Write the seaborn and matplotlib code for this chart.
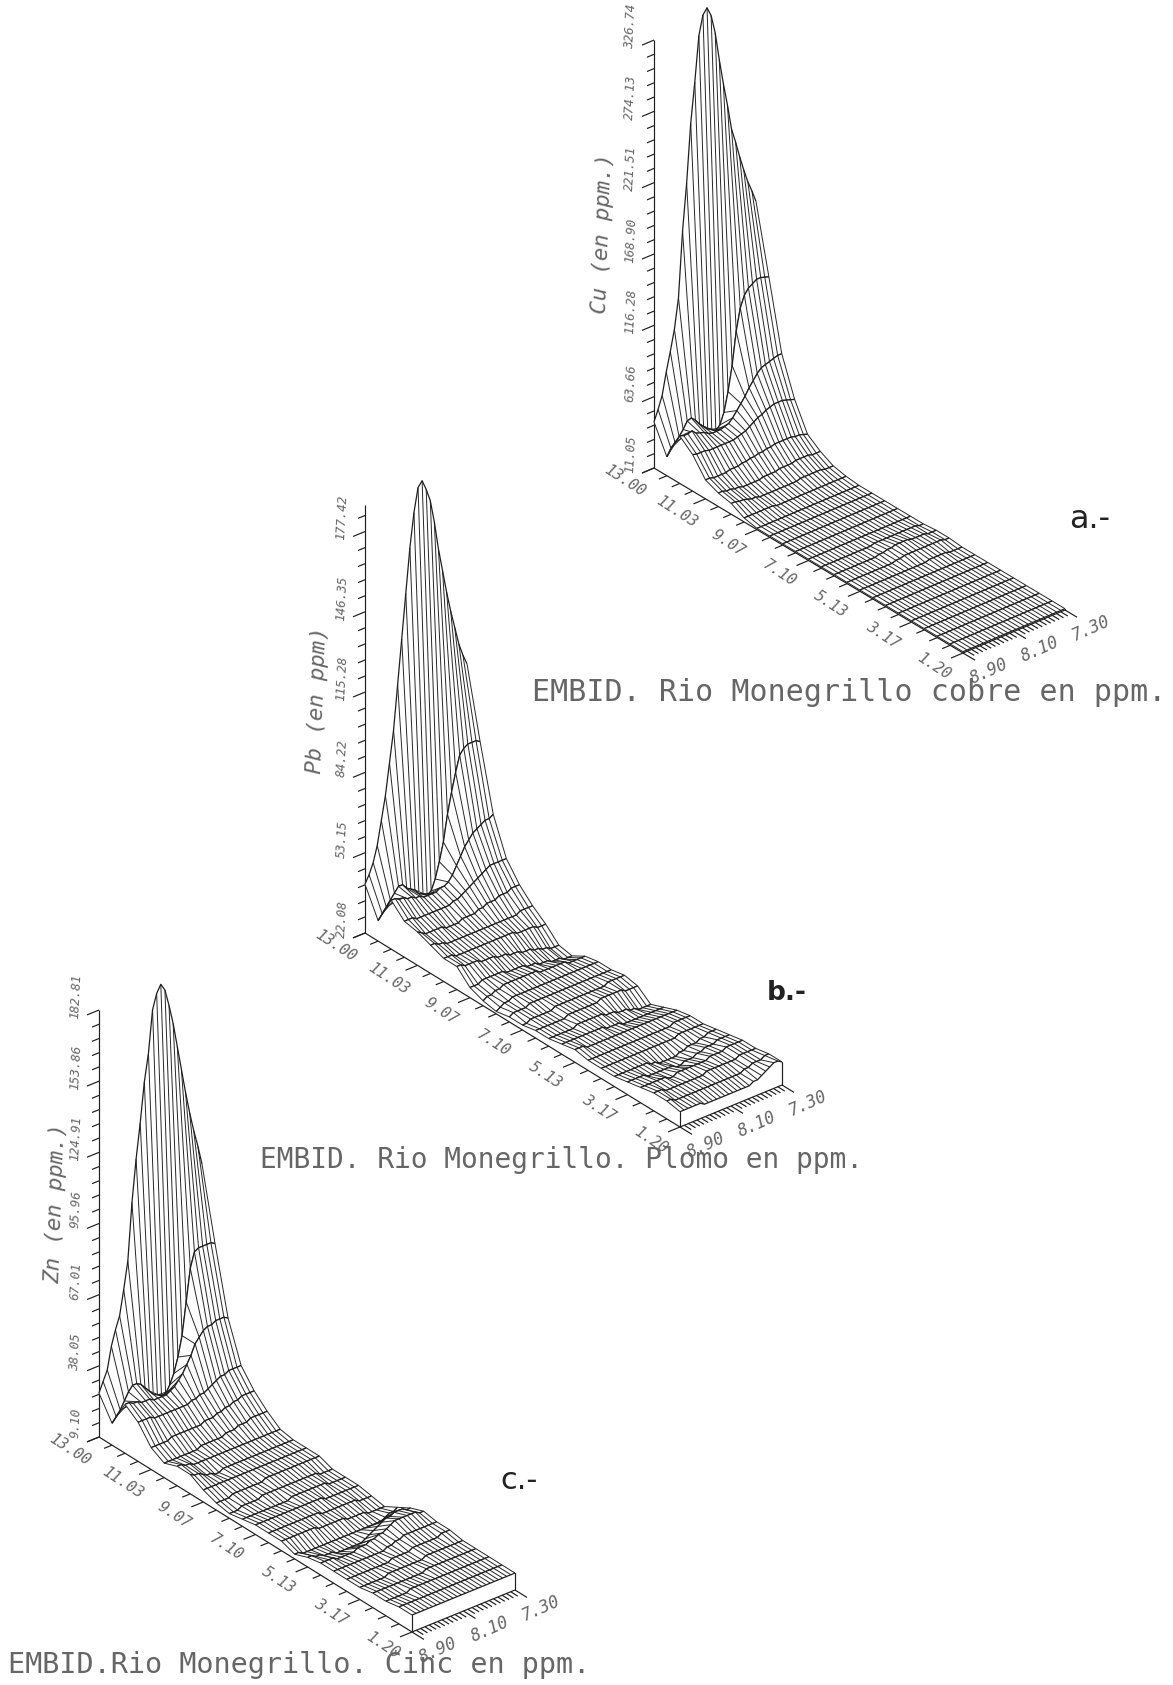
import numpy as np
import matplotlib
matplotlib.use("Agg")
import matplotlib.pyplot as plt
import seaborn as sns
from mpl_toolkits.mplot3d import proj3d

sns.set_theme(style="white", rc={"axes.grid": False})

W, H = 1173, 1685
x_labels = ["13.00", "11.03", "9.07", "7.10", "5.13", "3.17", "1.20"]
y_labels = ["8.90", "8.10", "7.30"]

cu_ticks = ["11.05", "63.66", "116.28", "168.90", "221.51", "274.13", "326.74"]
pb_ticks = ["22.08", "53.15", "84.22", "115.28", "146.35", "177.42"]
zn_ticks = ["9.10", "38.05", "67.01", "95.96", "124.91", "153.86", "182.81"]

cu = [
 [45,53,62,78,92,107,129,177,211,254,283,316,330,334,327,313,292,273,256,237,226,214,203,193,185,176],
 [25,30,33,36,40,45,46,43,39,36,33,31,29,32,40,54,72,96,112,120,124,126,128,128,127,126],
 [46,45,45,46,43,42,41,39,38,38,38,39,40,43,47,51,55,60,64,68,71,72,73,74,75,75],
 [38,37,37,37,36,36,36,36,36,36,36,37,38,39,41,43,45,46,48,49,50,50,50,49,48,47],
 [25,25,24,24,24,24,25,25,25,26,26,27,27,28,28,29,29,30,30,30,30,30,29,29,28,27],
 [21,21,20,20,19,19,18,18,18,18,18,19,19,19,19,20,20,20,20,21,21,21,21,20,20,20],
 [19,19,18,18,17,16,16,15,15,15,15,15,15,15,15,15,15,16,16,16,16,16,16,15,15,15],
 [14,14,14,14,14,14,14,14,13,13,13,13,13,13,13,13,13,13,13,13,13,13,13,13,13,13],
 [12]*26,
 [12]*26,
 [12]*26,
 [12]*26,
 [12]*26,
 [12,12,12,12,12,12,12,12,12,12,12,12,12,13,13,13,13,13,13,13,13,13,13,13,12,12],
 [12,12,12,12,12,12,12,12,12,12,12,13,13,14,14,15,15,15,15,14,14,14,14,13,13,13],
 [12,12,12,12,12,12,12,12,12,12,12,12,13,13,14,14,14,14,14,14,14,14,14,14,13,13],
 [12,12,12,12,12,12,12,12,12,12,12,12,12,12,12,12,12,13,13,13,13,13,12,12,12,12],
 [12]*26,
 [12]*26,
 [12]*26,
 [12]*26,
 [12]*26,
 [12]*26,
 [12]*26,
 [12]*26,
]

pb = [
 [41,44,48,54,63,72,84,96,113,130,147,164,177,186,188,184,179,170,159,150,141,133,126,119,114,110],
 [30,32,34,36,38,40,40,38,37,36,34,33,32,33,37,43,50,60,68,75,81,83,84,84,84,83],
 [41,41,40,40,39,39,38,38,37,37,37,37,38,38,39,41,44,47,50,52,54,55,56,57,57,58],
 [36,36,36,35,35,35,35,35,35,35,35,35,36,36,37,38,39,40,41,42,43,44,44,44,44,44],
 [35,34,33,33,33,33,33,32,32,32,32,33,33,33,33,34,34,35,35,35,36,36,36,37,37,37],
 [33,33,32,32,31,31,31,31,31,31,31,31,31,31,31,31,31,31,31,31,31,31,32,32,32,32],
 [31,31,31,30,30,30,30,30,30,30,30,30,30,30,30,30,30,30,29,29,29,29,29,28,28,28],
 [31,31,30,30,30,30,29,29,29,29,28,28,28,27,27,27,26,26,26,25,25,24,24,23,23,23],
 [26,26,26,27,27,27,27,27,27,26,26,26,26,26,25,25,25,24,24,24,23,23,23,22,22,22],
 [24,25,25,26,26,27,27,27,27,27,27,27,27,27,26,26,26,26,26,26,26,25,25,25,25,25],
 [23,24,25,25,26,26,26,26,26,26,26,26,26,26,26,26,26,26,26,26,26,26,26,26,26,26],
 [24,25,25,25,25,26,26,26,26,26,26,26,26,26,26,26,26,26,26,26,26,26,26,26,26,26],
 [24,24,25,25,25,25,25,25,26,26,26,26,26,26,26,26,26,26,26,26,26,27,27,27,27,27],
 [25,25,25,25,25,25,25,25,26,26,26,26,26,26,26,26,27,27,27,27,27,27,26,26,26,26],
 [25,25,25,25,25,25,25,26,26,26,26,26,26,26,25,25,25,24,24,24,23,23,22,22,22,22],
 [26,26,26,26,26,26,26,26,26,26,26,25,25,25,25,24,24,24,24,24,24,24,24,24,24,24],
 [27,27,27,26,26,26,26,26,26,26,26,26,26,26,26,26,26,26,26,26,26,26,26,26,26,26],
 [26,26,26,26,26,26,26,26,26,26,26,26,26,26,26,26,26,26,26,26,26,27,27,27,27,27],
 [26,26,26,26,26,26,26,26,26,26,26,26,26,26,26,26,26,26,26,27,27,27,27,27,27,27],
 [26,26,26,26,26,26,26,26,26,25,25,24,24,24,24,24,25,25,26,26,26,27,27,28,28,28],
 [27,27,27,27,27,26,26,26,26,26,26,26,25,25,26,26,26,27,27,28,28,28,29,29,29,29],
 [28,28,28,28,28,28,28,27,27,28,28,28,28,28,28,28,28,29,29,29,29,30,30,30,30,30],
 [29,29,29,28,28,28,28,28,28,28,28,28,28,29,29,29,29,29,29,29,29,30,30,30,30,30],
 [29,29,28,28,28,28,28,28,28,28,28,28,28,28,28,28,28,28,28,29,29,30,30,30,31,31],
 [28,28,28,28,28,28,27,27,27,27,27,27,27,27,27,27,27,27,28,28,29,30,31,32,32,31],
]

zn = [
 [27,31,35,44,50,55,65,76,99,116,130,146,157,174,180,183,180,173,165,155,145,135,126,118,111,103],
 [18,20,22,25,28,30,30,29,27,25,23,22,21,21,24,28,34,42,55,68,74,75,75,75,75,74],
 [29,29,28,28,27,27,27,26,26,26,26,27,28,30,32,35,38,42,44,46,47,47,48,48,48,47],
 [25,25,25,25,24,24,24,24,24,24,24,24,24,25,25,26,26,27,28,29,30,30,31,31,31,31],
 [18,18,18,18,18,19,19,19,19,19,19,19,19,20,20,20,21,21,22,22,23,23,24,24,24,24],
 [15,15,15,15,15,15,15,15,15,16,16,16,16,16,16,17,17,17,18,18,18,19,19,19,19,19],
 [17,17,16,16,15,15,15,15,15,15,15,15,15,15,15,15,15,15,15,15,15,15,15,15,15,15],
 [17,16,16,15,14,14,13,13,14,14,14,14,14,14,14,14,14,14,14,14,14,14,14,14,14,14],
 [14]*26,
 [12,12,12,12,13,13,13,13,13,13,13,13,14,14,14,14,14,14,14,14,14,14,14,14,14,14],
 [11,11,11,12,12,12,12,12,13,13,13,13,13,13,13,13,13,13,13,13,13,13,12,12,12,12],
 [12,12,12,12,12,12,12,12,12,12,12,12,13,13,13,13,13,13,13,13,13,12,12,12,12,12],
 [13,13,13,13,13,13,13,13,13,13,13,13,13,13,13,13,13,12,12,12,12,12,12,12,12,12],
 [13,13,13,13,13,13,13,13,13,13,13,13,13,12,12,12,12,12,12,12,12,12,11,11,11,11],
 [13,13,13,13,13,13,13,13,13,12,12,12,12,12,12,12,11,11,11,11,11,10,10,10,10,10],
 [11,11,10,10,10,10,10,10,10,10,10,10,10,10,10,10,10,10,10,10,10,10,11,12,12,13],
 [13,13,12,12,11,11,11,10,10,10,10,10,10,10,11,12,13,14,15,16,16,17,17,17,16,16],
 [14,14,14,14,13,13,13,13,13,14,14,14,15,15,16,16,17,18,19,19,19,19,19,19,18,18],
 [14,14,14,14,14,14,14,14,14,14,14,14,14,15,15,16,16,17,17,17,17,17,17,17,17,17],
 [14,14,14,14,14,14,14,14,14,14,14,15,15,15,15,15,16,16,16,16,16,16,16,17,17,17],
 [14,14,14,14,14,14,14,15,15,15,15,15,15,15,15,15,16,16,16,16,16,16,16,16,16,16],
 [15,15,15,15,15,15,15,15,15,15,15,15,15,16,16,16,16,16,16,16,16,16,16,16,16,16],
 [15,15,15,15,15,15,16,16,16,16,16,16,16,16,16,16,16,16,16,16,16,16,16,16,16,16],
 [16]*26,
 [16]*26,
]

MONO = "DejaVu Sans Mono"
INK = "#1e1e1e"
HATCH = "#262626"
TXT = "#666666"


def chart(fig, Z, z_ticks, z_top, base, near, far, z_px, ztitle, ztitle_pos):
    Z = np.array(Z, dtype=float)
    xs = np.linspace(13.0, 1.2, Z.shape[0])
    ys = np.linspace(8.9, 7.3, Z.shape[1])
    X, Y = np.meshgrid(xs, ys, indexing="ij")
    zmin = float(z_ticks[0])
    zmaj = [float(t) for t in z_ticks]
    zstep = zmaj[1] - zmaj[0]

    vx = np.array([base[0] - near[0], near[1] - base[1]], float)
    vy = np.array([near[0] - far[0], far[1] - near[1]], float)
    sin_e = np.sqrt(abs(vx[1] / vx[0] * vy[1] / vy[0]))
    e = np.arcsin(sin_e)
    a = np.pi - np.arctan(abs(vy[1] / vy[0]) / sin_e)
    Lx = abs(vx[0] / np.sin(a))
    Ly = abs(vy[0] / np.cos(a))
    Lz = z_px / np.cos(e)

    ax = fig.add_axes([0, 0, 1, W / H], projection="3d", proj_type="ortho",
                      computed_zorder=False)
    ax.view_init(elev=np.degrees(e), azim=np.degrees(a))
    ax.set_xlim(1.2, 13.0, view_margin=0)
    ax.set_ylim(7.3, 8.9, view_margin=0)
    ax.set_zlim(zmin, z_top, view_margin=0)
    ax.set_box_aspect((Lx, Ly, Lz))
    ax.set_axis_off()
    ax.patch.set_visible(False)

    ax.apply_aspect()

    def to_px(p):
        u, v, _ = proj3d.proj_transform(p[0], p[1], p[2], ax.get_proj())
        return ax.transData.transform((u, v))

    p0 = to_px((13.0, 8.9, zmin))
    p1 = to_px((1.2, 8.9, zmin))
    s = (near[0] - base[0]) / (p1[0] - p0[0])
    side = W * s
    bbox = ax.get_position(original=False)
    left = base[0] - (p0[0] - bbox.x0 * W) * s
    bottom = (H - base[1]) - (p0[1] - bbox.y0 * H) * s
    ax.set_position([left / W, bottom / H, side / W, side / H])
    ax.apply_aspect()

    dy_per_px = 1.6 / (far[0] - near[0])
    dx_per_px = 11.8 / (near[0] - base[0])

    def label(p, off, txt, fs, rot):
        q = to_px(p)
        fig.text((q[0] + off[0]) / W, (q[1] + off[1]) / H, txt, family=MONO, style="oblique",
                 fontsize=fs, color=TXT, rotation=rot, rotation_mode="anchor",
                 ha="center", va="center")

    lk = dict(color=INK, lw=0.85, zorder=1, solid_capstyle="butt")
    ax.plot([13.0, 1.2], [8.9, 8.9], [zmin, zmin], **lk)
    ax.plot([1.2, 1.2], [8.9, 7.3], [zmin, zmin], **lk)
    ax.plot([13.0, 13.0], [8.9, 8.9], [zmin, z_top], **lk)
    for i, xv in enumerate(xs):
        n = 12 if i % 4 == 0 else 8
        ax.plot([xv, xv], [8.9, 8.9 + n * dy_per_px], [zmin, zmin], **lk)
    for lab, xv in zip(x_labels, xs[::4]):
        label((xv, 8.9, zmin), (-29, -13), lab, 11, -33)
    for i, yv in enumerate(np.linspace(8.9, 7.3, 25)):
        n = 12 if i % 12 == 0 else 7
        ax.plot([1.2, 1.2 - n * dx_per_px], [yv, yv], [zmin, zmin], **lk)
    for lab in y_labels:
        label((1.2, float(lab), zmin), (26, -18), lab, 12, 24)
    zt = zmin
    k = 0
    while zt <= z_top + 1e-6:
        n = 12 if k % 5 == 0 else 7
        ax.plot([13.0, 13.0], [8.9, 8.9 + n * dy_per_px], [zt, zt], **lk)
        zt += zstep / 5
        k += 1
    for lab in z_ticks:
        label((13.0, 8.9, float(lab)), (-23, 14), lab, 9, 87)

    for r in range(Z.shape[0] - 1):
        xb, yb, zb = X[r:r + 2], Y[r:r + 2], Z[r:r + 2]
        ax.plot_surface(xb, yb, zb, rstride=1, cstride=1, color="white", edgecolor="white",
                        linewidth=0, shade=False, zorder=2 + r)
        ax.plot_wireframe(xb, yb, zb, rstride=0, cstride=1, color=HATCH, linewidth=0.7,
                          zorder=2 + r)
        ax.plot_wireframe(xb, yb, zb, rstride=1, cstride=0, color=INK, linewidth=0.9,
                          zorder=2 + r)
    last = Z.shape[0] + 5
    ax.plot([1.2, 1.2], [8.9, 8.9], [zmin, Z[-1, 0]], color=INK, lw=0.85, zorder=last)
    ax.plot([1.2, 1.2], [7.3, 7.3], [zmin, Z[-1, -1]], color=INK, lw=0.85, zorder=last)
    for art in ax.get_children():
        if hasattr(art, "set_clip_on"):
            art.set_clip_on(False)

    fig.text(ztitle_pos[0] / W, 1 - ztitle_pos[1] / H, ztitle, family=MONO, style="oblique",
             fontsize=16, color=TXT, rotation=88, ha="center", va="center")
    return ax


fig = plt.figure(figsize=(W / 100, H / 100), dpi=100, facecolor="white")

chart(fig, cu, cu_ticks, 326.74, (654, 468), (963, 653), (1065, 610), 428,
      "Cu (en ppm.)", (603, 233))
chart(fig, pb, pb_ticks, 187.7, (365, 933), (680, 1127), (782, 1085), 428,
      "Pb (en ppm)", (318, 700))
chart(fig, zn, zn_ticks, 182.81, (99, 1437), (412, 1632), (515, 1590), 427,
      "Zn (en ppm.)", (56, 1203))

titles = [("EMBID. Rio Monegrillo cobre en ppm.", 532, 692, 21.6),
          ("EMBID. Rio Monegrillo. Plomo en ppm.", 260, 1160, 20.1),
          ("EMBID.Rio Monegrillo. Cinc en ppm.", 8, 1665, 20.5)]
for s, x, y, fs in titles:
    fig.text(x / W, 1 - y / H, s, family=MONO, fontsize=fs, color=TXT, ha="left", va="center")

for s, x, y, fw, fs in [("a.-", 1090, 519, "normal", 23), ("b.-", 787, 993, "bold", 19),
                        ("c.-", 519, 1480, "normal", 22)]:
    fig.text(x / W, 1 - y / H, s, family="DejaVu Sans", fontsize=fs, color="#222222",
             ha="center", va="center", fontweight=fw)

fig.savefig("out.png", dpi=100, facecolor="white")
